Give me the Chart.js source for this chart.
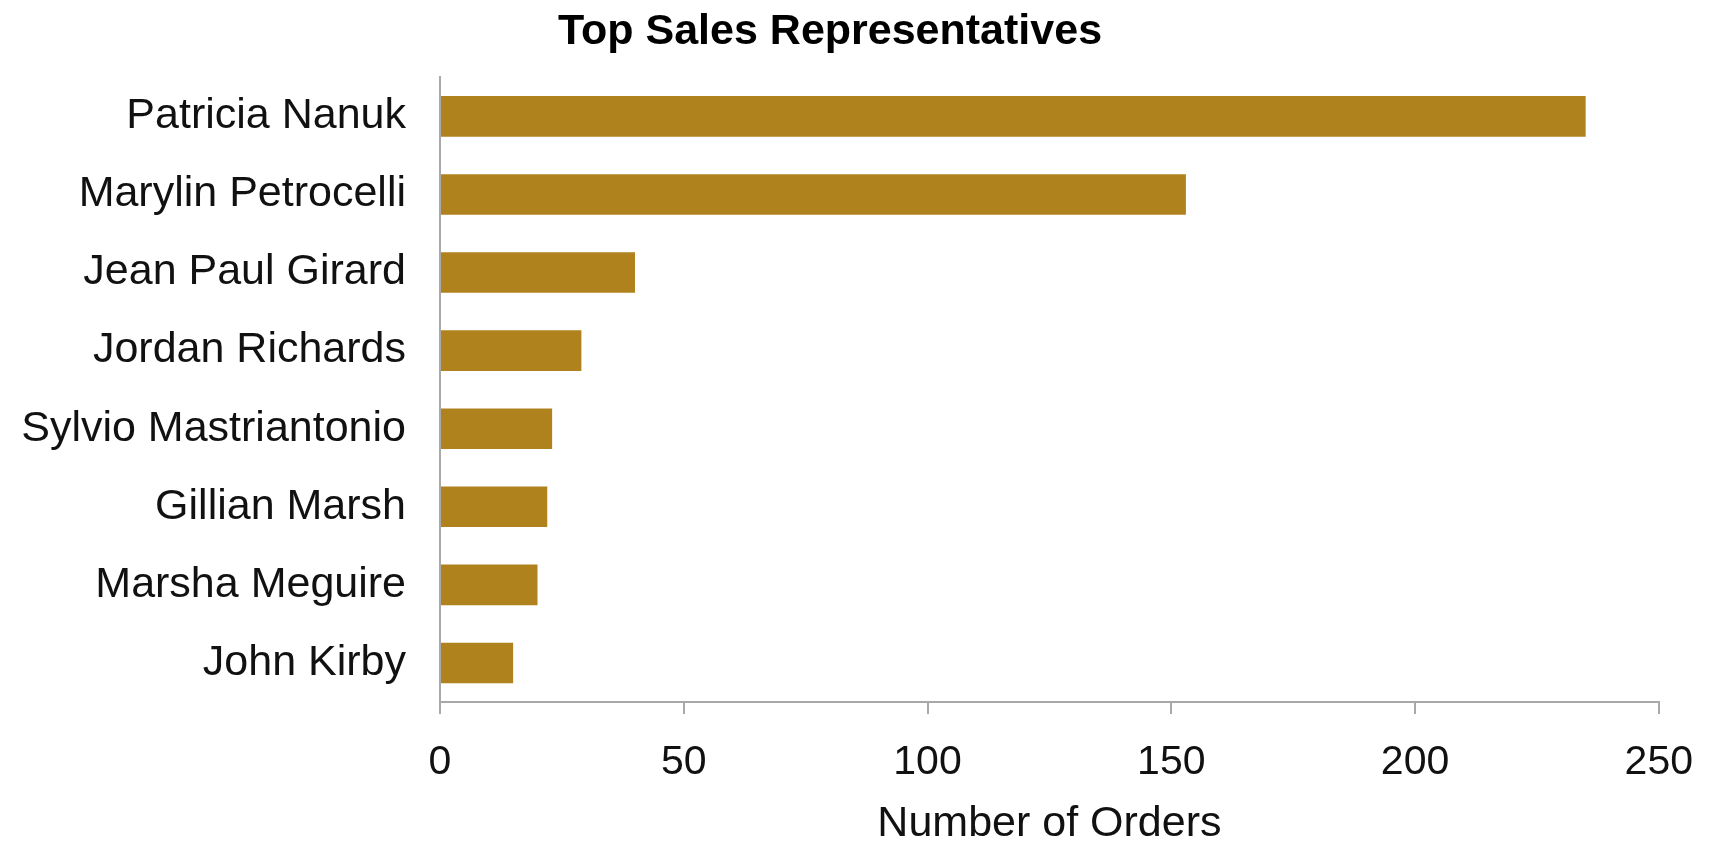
<!DOCTYPE html>
<html>
<head>
<meta charset="utf-8">
<script src="https://cdn.jsdelivr.net/npm/chart.js@4.4.0/dist/chart.umd.min.js"></script>
<style>
  html, body { margin: 0; padding: 0; background: #ffffff; }
  #wrap { width: 1717px; height: 845px; }
</style>
</head>
<body>
<div id="wrap"><canvas id="c" width="1717" height="845"></canvas></div>
<script>
const categories = [
  "Patricia Nanuk",
  "Marylin Petrocelli",
  "Jean Paul Girard",
  "Jordan Richards",
  "Sylvio Mastriantonio",
  "Gillian Marsh",
  "Marsha Meguire",
  "John Kirby"
];
const orders = [235, 153, 40, 29, 23, 22, 20, 15];
const xTicks = [0, 50, 100, 150, 200, 250];
const chartTitle = "Top Sales Representatives";
const xAxisTitle = "Number of Orders";

const FONT = "'Liberation Sans', Arial, Helvetica, sans-serif";
const AXIS_GREY = "#a9a9a9";

new Chart(document.getElementById("c"), {
  type: "bar",
  data: {
    labels: categories,
    datasets: [{
      label: xAxisTitle,
      data: orders,
      backgroundColor: "#b0821d",
      borderWidth: 0,
      barPercentage: 0.52,
      categoryPercentage: 1.0
    }]
  },
  options: {
    indexAxis: "y",
    responsive: false,
    animation: false,
    devicePixelRatio: 1,
    layout: { padding: { left: 0, right: 57, top: 0, bottom: 0 } },
    plugins: {
      legend: { display: false },
      tooltip: { enabled: false },
      title: {
        display: true,
        text: chartTitle,
        color: "#000000",
        font: { family: FONT, size: 43, weight: "bold", lineHeight: 1.1 },
        padding: { top: 8, bottom: 22 }
      }
    },
    scales: {
      x: {
        type: "linear",
        position: "bottom",
        min: 0,
        max: 250,
        afterBuildTicks: (scale) => { scale.ticks = xTicks.map(v => ({ value: v })); },
        afterFit: (scale) => { scale.height = 143; },
        grid: {
          drawOnChartArea: false,
          drawTicks: true,
          tickLength: 12,
          color: AXIS_GREY,
          lineWidth: 2
        },
        border: { display: true, color: AXIS_GREY, width: 2 },
        ticks: {
          color: "#111111",
          padding: 24,
          maxRotation: 0,
          font: { family: FONT, size: 41 }
        },
        title: {
          display: true,
          text: xAxisTitle,
          color: "#111111",
          font: { family: FONT, size: 43, lineHeight: 1.0 },
          padding: { top: 0, bottom: -1 }
        }
      },
      y: {
        type: "category",
        position: "left",
        afterFit: (scale) => { scale.width = 440; },
        grid: {
          drawOnChartArea: false,
          drawTicks: false,
          color: AXIS_GREY
        },
        border: { display: true, color: AXIS_GREY, width: 2 },
        ticks: {
          color: "#111111",
          padding: 34,
          autoSkip: false,
          font: { family: FONT, size: 43 }
        }
      }
    }
  }
});
</script>
</body>
</html>
